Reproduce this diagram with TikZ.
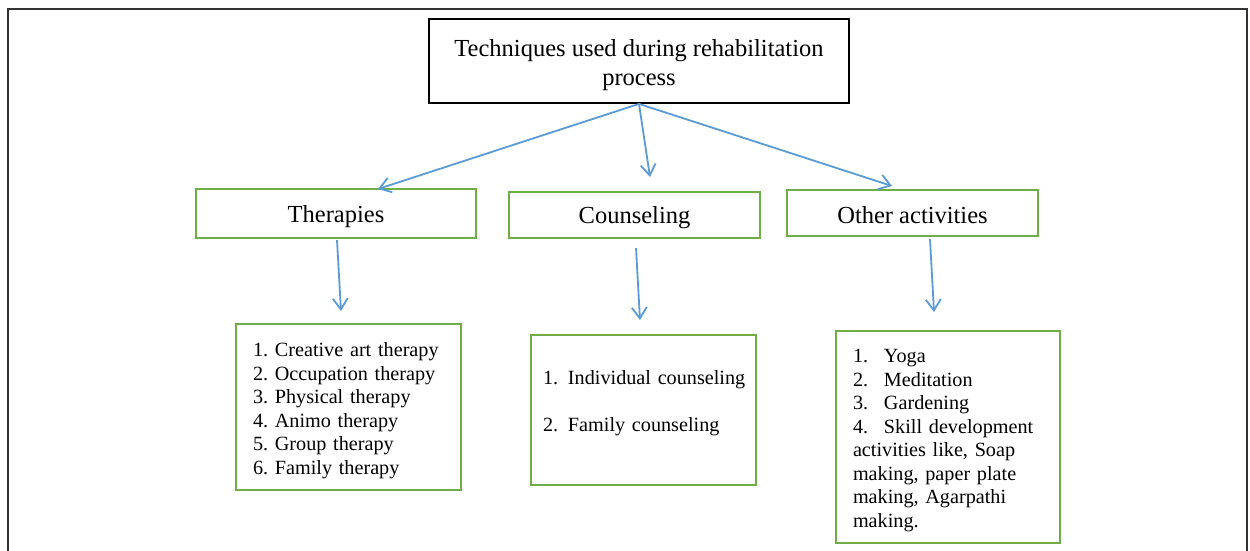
\documentclass[tikz,border=0pt]{standalone}
\usepackage{fontspec}
\setmainfont{Liberation Serif}
\usetikzlibrary{arrows.meta}

\definecolor{linkblue}{HTML}{5B9BD5}
\definecolor{boxgreen}{HTML}{70AD47}

\tikzset{
  headbox/.style={draw=black, line width=1.8pt, inner sep=0pt, align=center,
    font=\fontsize{24.5pt}{29pt}\selectfont\frenchspacing},
  catbox/.style={draw=boxgreen, line width=2.2pt, inner sep=0pt, align=center,
    font=\fontsize{24.5pt}{29pt}\selectfont\frenchspacing},
  listbox/.style={draw=boxgreen, line width=2.2pt, inner sep=0pt, align=left,
    font=\fontsize{20.2pt}{23.5pt}\selectfont\frenchspacing},
  link/.style={draw=linkblue, line width=1.8pt,
    -{Straight Barb[length=11pt,width=15pt,line width=1.8pt]}},
  frame/.style={draw=black!80, line width=1.5pt}
}
% invisible rule that lowers a box's text inside its frame
\newcommand{\lowerby}[1]{\rule{0pt}{#1}}

\begin{document}
\begin{tikzpicture}[x=1pt, y=-1pt]
  \useasboundingbox (0,0) rectangle (1250,551);
  \fill[white] (0,0) rectangle (1250,551);

  % surrounding frame, open at the bottom
  \draw[frame] (8,551) -- (8,9) -- (1247,9) -- (1247,551);

  % root
  \node[headbox, minimum width=420pt, minimum height=84pt] (root) at (639,61)
    {\lowerby{25pt}Techniques used during rehabilitation\\process};

  % categories
  \node[catbox, minimum width=280pt, minimum height=49pt] (ther) at (336,213.5) {\lowerby{23pt}Therapies};
  \node[catbox, minimum width=251pt, minimum height=46pt] (coun) at (634.5,215) {\lowerby{23pt}Counseling};
  \node[catbox, minimum width=251pt, minimum height=46pt] (oth)  at (912.5,213) {\lowerby{22pt}Other activities};

  % item lists
  \node[listbox, text width=191pt, minimum width=225pt, minimum height=166pt] (tlist) at (348.5,407)
    {\lowerby{21pt}1. Creative art therapy\\
     2. Occupation therapy\\
     3. Physical therapy\\
     4. Animo therapy\\
     5. Group therapy\\
     6. Family therapy};
  \node[listbox, text width=201pt, minimum width=225pt, minimum height=150pt] (clist) at (643.5,410)
    {\lowerby{26pt}\mbox{\makebox[25pt][l]{1.}Individual counseling}\\
     \strut\\
     \mbox{\makebox[25pt][l]{2.}Family counseling}\\
     \strut};
  \node[listbox, text width=190pt, minimum width=224pt, minimum height=212pt] (olist) at (948,437)
    {\lowerby{20pt}\makebox[31pt][l]{1.}Yoga\\
     \makebox[31pt][l]{2.}Meditation\\
     \makebox[31pt][l]{3.}Gardening\\
     \makebox[31pt][l]{4.}Skill development\\
     activities like, Soap\\
     making, paper plate\\
     making, Agarpathi\\
     making.};

  % arrow tips
  \coordinate (tTher) at (378,189);
  \coordinate (tCoun) at (650,177);
  \coordinate (tOth)  at (892,186);
  \coordinate (tTl)   at (341,311);
  \coordinate (tCl)   at (640,320);
  \coordinate (tOl)   at (934,312);

  % connectors
  \draw[link] (root.south) -- (tTher);
  \draw[link] (root.south) -- (tCoun);
  \draw[link] (root.south) -- (tOth);
  \draw[link] ([shift={(1,1)}]ther.south) -- (tTl);
  \draw[link] ([shift={(1.5,9)}]coun.south) -- (tCl);
  \draw[link] ([shift={(17.5,2)}]oth.south) -- (tOl);
\end{tikzpicture}
\end{document}
